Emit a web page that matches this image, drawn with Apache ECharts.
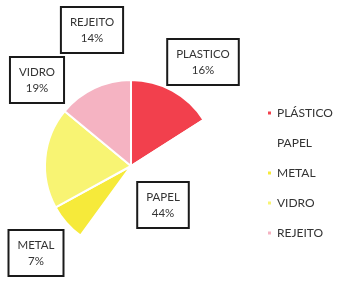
<!DOCTYPE html>
<html>
<head>
<meta charset="utf-8">
<script src="https://cdn.jsdelivr.net/npm/echarts@6/dist/echarts.min.js"></script>
<style>
  html, body { margin: 0; padding: 0; background: #fff; }
  #chart { width: 342px; height: 282px; }
</style>
</head>
<body>
<div id="chart"></div>
<script>
const categories = ['PLÁSTICO', 'PAPEL', 'METAL', 'VIDRO', 'REJEITO'];
const labelNames = ['PLASTICO', 'PAPEL', 'METAL', 'VIDRO', 'REJEITO'];
const percents = [16, 44, 7, 19, 14];
const colors = ['#f2404d', '#ffffff', '#f6ea3a', '#f8f473', '#f5b3c2'];
// label box centres (px)
const labelPos = [[203, 62], [163, 205], [36, 253], [37, 80], [92, 30]];

const chart = echarts.init(document.getElementById('chart'), null, { renderer: 'canvas' });

chart.setOption({
  backgroundColor: '#fff',
  animation: false,
  legend: {
    orient: 'vertical',
    left: 261,
    top: 102,
    itemWidth: 5,
    itemHeight: 5,
    itemGap: 18,
    icon: 'rect',
    data: categories,
    textStyle: { color: '#333', fontSize: 12, fontFamily: 'Lato' }
  },
  series: [
    {
      type: 'pie',
      center: [131, 166],
      radius: 86,
      startAngle: 90,
      clockwise: true,
      data: categories.map((c, i) => ({
        name: c,
        value: percents[i],
        itemStyle: { color: colors[i] }
      })),
      itemStyle: { borderColor: '#fff', borderWidth: 2 },
      labelLine: { show: false },
      label: {
        show: true,
        position: 'inside',
        overflow: 'none',
        formatter: p => labelNames[p.dataIndex] + '\n' + p.value + '%',
        color: '#333',
        fontSize: 11.5,
        fontFamily: 'Lato',
        lineHeight: 16,
        align: 'center',
        backgroundColor: '#fff',
        borderColor: '#1a1a1a',
        borderWidth: 2,
        padding: [6, 8]
      },
      labelLayout: p => ({
        x: labelPos[p.dataIndex][0],
        y: labelPos[p.dataIndex][1],
        align: 'center',
        verticalAlign: 'middle'
      })
    }
  ]
});
</script>
</body>
</html>
